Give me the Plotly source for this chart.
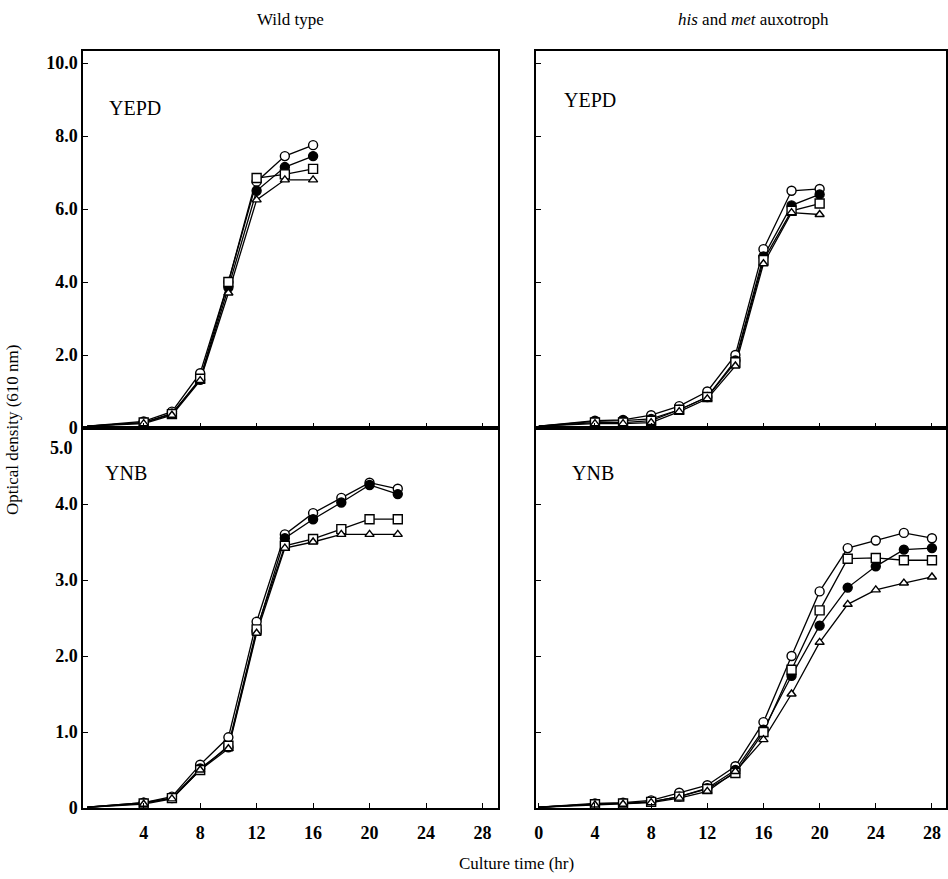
import plotly.graph_objects as go

# ---------------- data ----------------
series_names = ["open circle", "closed circle", "open square", "open triangle"]

# Wild type, YEPD
wt_yepd_time = [0, 4, 6, 8, 10, 12, 14, 16]
wt_yepd_oc = [0.05, 0.18, 0.45, 1.50, 4.00, 6.75, 7.45, 7.75]
wt_yepd_cc = [0.05, 0.15, 0.40, 1.32, 3.85, 6.50, 7.15, 7.45]
wt_yepd_sq = [0.05, 0.15, 0.38, 1.35, 4.00, 6.85, 6.95, 7.10]
wt_yepd_tr = [0.05, 0.12, 0.35, 1.30, 3.70, 6.25, 6.80, 6.80]

# his and met auxotroph, YEPD
ax_yepd_time = [0, 4, 6, 8, 10, 12, 14, 16, 18, 20]
ax_yepd_oc = [0.05, 0.20, 0.22, 0.35, 0.60, 1.00, 2.00, 4.90, 6.50, 6.55]
ax_yepd_cc = [0.05, 0.18, 0.20, 0.25, 0.50, 0.85, 1.85, 4.70, 6.10, 6.40]
ax_yepd_sq = [0.05, 0.15, 0.15, 0.20, 0.50, 0.85, 1.80, 4.60, 5.95, 6.15]
ax_yepd_tr = [0.05, 0.12, 0.12, 0.15, 0.45, 0.80, 1.70, 4.50, 5.90, 5.85]

# Wild type, YNB
wt_ynb_time = [0, 4, 6, 8, 10, 12, 14, 16, 18, 20, 22]
wt_ynb_oc = [0.01, 0.07, 0.15, 0.57, 0.93, 2.45, 3.60, 3.88, 4.08, 4.28, 4.20]
wt_ynb_cc = [0.01, 0.07, 0.13, 0.52, 0.80, 2.33, 3.55, 3.80, 4.02, 4.25, 4.13]
wt_ynb_sq = [0.01, 0.06, 0.13, 0.50, 0.82, 2.35, 3.45, 3.54, 3.67, 3.80, 3.80]
wt_ynb_tr = [0.01, 0.05, 0.12, 0.50, 0.78, 2.30, 3.42, 3.50, 3.60, 3.60, 3.60]

# his and met auxotroph, YNB
ax_ynb_time = [0, 4, 6, 8, 10, 12, 14, 16, 18, 20, 22, 24, 26, 28]
ax_ynb_oc = [0.01, 0.06, 0.07, 0.10, 0.20, 0.30, 0.55, 1.13, 2.00, 2.85, 3.42, 3.52, 3.62, 3.55]
ax_ynb_cc = [0.01, 0.05, 0.06, 0.08, 0.15, 0.26, 0.50, 1.03, 1.74, 2.40, 2.90, 3.18, 3.40, 3.42]
ax_ynb_sq = [0.01, 0.05, 0.06, 0.08, 0.15, 0.25, 0.46, 1.00, 1.82, 2.60, 3.28, 3.29, 3.26, 3.26]
ax_ynb_tr = [0.01, 0.04, 0.05, 0.07, 0.13, 0.22, 0.48, 0.90, 1.50, 2.18, 2.68, 2.87, 2.96, 3.04]

x_ticks = [4, 8, 12, 16, 20, 24, 28]
x_ticks_right = [0, 4, 8, 12, 16, 20, 24, 28]
yepd_ticks = [0, 2, 4, 6, 8, 10]
yepd_ticktext = ["0", "2.0", "4.0", "6.0", "8.0", "10.0"]
ynb_ticks = [0, 1, 2, 3, 4]
ynb_ticktext = ["0", "1.0", "2.0", "3.0", "4.0"]
ynb_top_label = "5.0"

col_titles = ["Wild type", "<i>his</i> and <i>met</i> auxotroph"]
panel_labels = ["YEPD", "YEPD", "YNB", "YNB"]
y_title = "Optical density (610 nm)"
x_title = "Culture time (hr)"

# ---------------- figure ----------------
SERIF = "Liberation Serif"
W, H = 948, 879

marker_styles = [
    dict(symbol="circle", size=9, color="white", line=dict(color="black", width=1.4)),
    dict(symbol="circle", size=9, color="black", line=dict(color="black", width=1.4)),
    dict(symbol="square", size=9, color="white", line=dict(color="black", width=1.4)),
    dict(symbol="triangle-up", size=8, color="white", line=dict(color="black", width=1.4)),
]

panels = [
    ("x", "y", wt_yepd_time, [wt_yepd_oc, wt_yepd_cc, wt_yepd_sq, wt_yepd_tr]),
    ("x2", "y2", ax_yepd_time, [ax_yepd_oc, ax_yepd_cc, ax_yepd_sq, ax_yepd_tr]),
    ("x3", "y3", wt_ynb_time, [wt_ynb_oc, wt_ynb_cc, wt_ynb_sq, wt_ynb_tr]),
    ("x4", "y4", ax_ynb_time, [ax_ynb_oc, ax_ynb_cc, ax_ynb_sq, ax_ynb_tr]),
]

fig = go.Figure()
for xa, ya, t, series in panels:
    for name, vals in zip(series_names, series):
        fig.add_trace(go.Scatter(x=t, y=vals, xaxis=xa, yaxis=ya, mode="lines",
                                 line=dict(color="black", width=1.3),
                                 name=name, showlegend=False, hoverinfo="skip"))
    for name, vals, ms in zip(series_names, series, marker_styles):
        fig.add_trace(go.Scatter(x=t[1:], y=vals[1:], xaxis=xa, yaxis=ya, mode="markers",
                                 marker=ms, name=name, showlegend=False,
                                 cliponaxis=False))


def px_x(p):
    return p / W


def px_y(p):
    return 1 - p / H


left_dom = [px_x(83), px_x(498)]
right_dom = [px_x(536), px_x(946)]
top_dom = [px_y(428), px_y(51)]
bot_dom = [px_y(808), px_y(428)]

tickfont = dict(family=SERIF, size=18, color="black", weight="bold")
common = dict(showline=True, linecolor="black", linewidth=1.5, mirror=True,
              ticks="inside", ticklen=5, tickwidth=1.2, tickcolor="black",
              showgrid=False, zeroline=False, tickfont=tickfont, automargin=False)

fig.update_layout(
    template="none",
    width=W, height=H,
    margin=dict(l=0, r=0, t=0, b=0, pad=0, autoexpand=False),
    paper_bgcolor="white", plot_bgcolor="white",
    showlegend=False,
    xaxis=dict(domain=left_dom, anchor="y", range=[-0.3, 29.1], tickvals=x_ticks,
               showticklabels=False, **common),
    yaxis=dict(domain=top_dom, anchor="x", range=[0, 10.33], tickvals=yepd_ticks,
               ticktext=yepd_ticktext, **common),
    xaxis2=dict(domain=right_dom, anchor="y2", range=[-0.2, 29.0], tickvals=x_ticks,
                showticklabels=False, **common),
    yaxis2=dict(domain=top_dom, anchor="x2", range=[0, 10.33], tickvals=yepd_ticks,
                showticklabels=False, **common),
    xaxis3=dict(domain=left_dom, anchor="y3", range=[-0.3, 29.1], tickvals=x_ticks,
                ticktext=[str(v) for v in x_ticks], ticklabelstandoff=8, **common),
    yaxis3=dict(domain=bot_dom, anchor="x3", range=[0, 5.0], tickvals=ynb_ticks,
                ticktext=ynb_ticktext, **common),
    xaxis4=dict(domain=right_dom, anchor="y4", range=[-0.2, 29.0], tickvals=x_ticks_right,
                ticktext=[str(v) for v in x_ticks_right], ticklabelstandoff=8, **common),
    yaxis4=dict(domain=bot_dom, anchor="x4", range=[0, 5.0], tickvals=ynb_ticks,
                showticklabels=False, **common),
)

txt = dict(family=SERIF, size=17, color="black")
ann = []
ann.append(dict(x=px_x(290), y=px_y(20), text=col_titles[0], font=txt))
ann.append(dict(x=px_x(753), y=px_y(20), text=col_titles[1], font=txt))
label_pos = [(107, 108), (562, 100), (103, 473), (570, 473)]
for (lx, ly), lab in zip(label_pos, panel_labels):
    ann.append(dict(x=px_x(lx), y=px_y(ly), text=lab, xanchor="left",
                    font=dict(family=SERIF, size=20, color="black")))
ann.append(dict(x=px_x(12), y=px_y(430), text=y_title, textangle=-90, font=txt))
ann.append(dict(x=px_x(516), y=px_y(863), text=x_title, font=txt))
for a in ann:
    a.setdefault("xanchor", "center")
    a.update(xref="paper", yref="paper", yanchor="middle", showarrow=False)
ann.append(dict(x=0.0, y=5.0, xref="x3 domain", yref="y3", text=ynb_top_label,
                xanchor="right", yanchor="middle", xshift=-8, yshift=-20, showarrow=False,
                font=tickfont))
fig.update_layout(annotations=ann)

fig.write_html(
    "out.html",
    config={"displayModeBar": False},
    post_script="document.body.style.margin='0';document.body.style.overflow='hidden';",
)
